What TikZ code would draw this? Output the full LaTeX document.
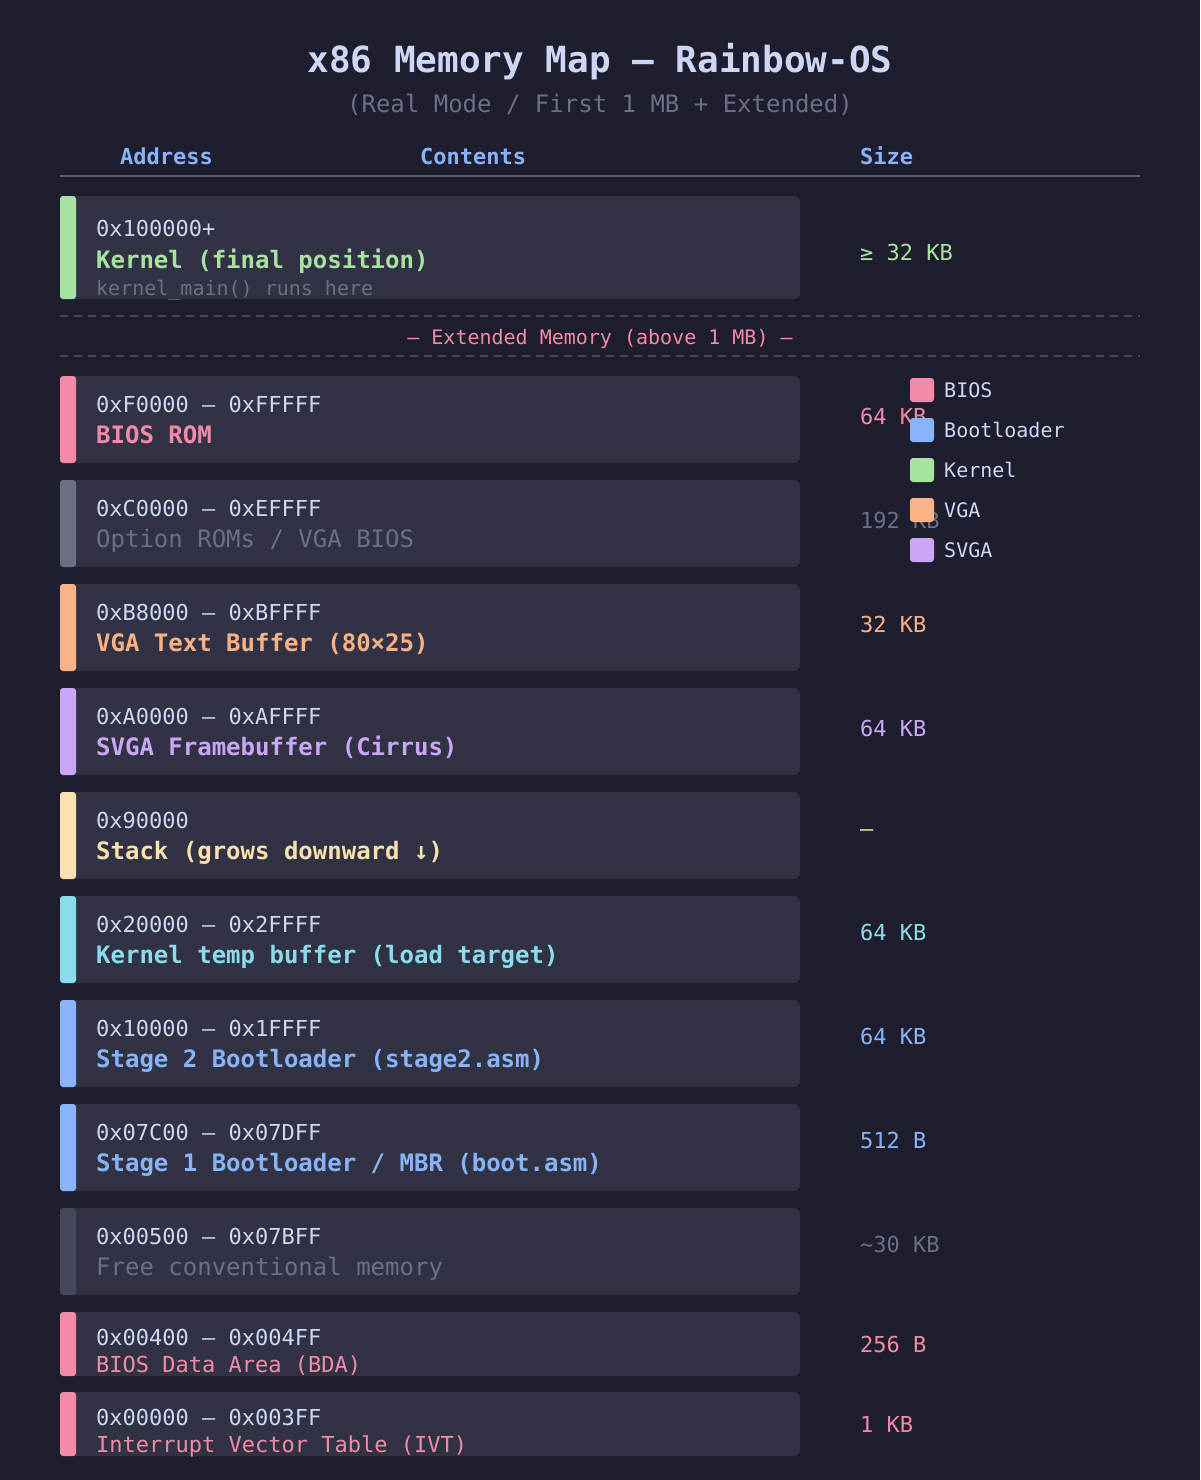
\documentclass[tikz,border=0pt]{standalone}
\usepackage{fontspec}
\setmainfont{DejaVu Sans Mono}
\setmonofont{DejaVu Sans Mono}
\definecolor{bg}{HTML}{1E1E2E}
\definecolor{surf}{HTML}{313244}
\definecolor{surfa}{HTML}{45475A}
\definecolor{surfb}{HTML}{585B70}
\definecolor{ovl}{HTML}{6C7086}
\definecolor{txt}{HTML}{CDD6F4}
\definecolor{cgreen}{HTML}{A6E3A1}
\definecolor{cred}{HTML}{F38BA8}
\definecolor{cblue}{HTML}{89B4FA}
\definecolor{cpeach}{HTML}{FAB387}
\definecolor{cmauve}{HTML}{CBA6F7}
\definecolor{cyellow}{HTML}{F9E2AF}
\definecolor{csky}{HTML}{89DCEB}
\tikzset{
  addr/.style={anchor=base west, inner sep=0pt, text=txt, font=\fontsize{22}{26}\selectfont},
  lbl/.style={anchor=base west, inner sep=0pt, font=\bfseries\fontsize{24}{28}\selectfont},
  lblthin/.style={anchor=base west, inner sep=0pt, font=\fontsize{24}{28}\selectfont},
  lblsmall/.style={anchor=base west, inner sep=0pt, font=\fontsize{22}{26}\selectfont},
  subnote/.style={anchor=base west, inner sep=0pt, text=ovl, font=\fontsize{20}{24}\selectfont},
  sz/.style={anchor=base west, inner sep=0pt, font=\fontsize{22}{26}\selectfont},
  hdr/.style={anchor=base west, inner sep=0pt, text=cblue, font=\bfseries\fontsize{22}{26}\selectfont},
  legtext/.style={anchor=base west, inner sep=0pt, text=txt, font=\fontsize{20}{24}\selectfont},
  dashline/.style={draw=surfa, line width=2pt, dash pattern=on 8pt off 6pt},
}
% #1 name, #2 top, #3 bar colour, #4 address, #5 label, #6 label style, #7 size text, #8 size colour, #9 size baseline offset
\newcommand{\stdrow}[9]{%
  \fill[surf, rounded corners=6pt] (60,#2) rectangle (800,{#2+87});
  \fill[#3, rounded corners=3pt] (60,#2) rectangle (76,{#2+87});
  \begin{scope}
    \clip (60,#2) rectangle (800,{#2+87});
    \node[addr] (#1a) at (96,{#2+36}) {#4};
    \node[#6] (#1l) at (96,{#2+67}) {#5};
  \end{scope}
  \node[sz, text=#8] (#1s) at (860,{#2+#9}) {#7};
}
\newcommand{\legitem}[4]{%
  \fill[#3, rounded corners=3pt] (910,#2) rectangle (934,{#2+24});
  \node[legtext] (#1) at (944,{#2+19}) {#4};
}
\begin{document}
\begin{tikzpicture}[x=1pt, y=-1pt]
\useasboundingbox (0,0) rectangle (1200,1480);
\fill[bg] (0,0) rectangle (1200,1480);

% title
\node[anchor=base, inner sep=0pt, text=txt, font=\bfseries\fontsize{36}{42}\selectfont] (title) at (600,72) {x86 Memory Map — Rainbow-OS};
\node[anchor=base, inner sep=0pt, text=ovl, font=\fontsize{24}{28}\selectfont] (subtitle) at (600,112) {(Real Mode / First 1 MB + Extended)};

% header
\node[hdr] (haddr) at (120,164) {Address};
\node[hdr] (hcont) at (420,164) {Contents};
\node[hdr] (hsize) at (860,164) {Size};
\draw[surfb, line width=2pt] (60,176) -- (1140,176);

% kernel final
\fill[surf, rounded corners=6pt] (60,196) rectangle (800,299);
\fill[cgreen, rounded corners=3pt] (60,196) rectangle (76,299);
\begin{scope}
  \clip (60,196) rectangle (800,299);
  \node[addr] (kfa) at (96,236) {0x100000+};
  \node[lbl, text=cgreen] (kfl) at (96,268) {Kernel (final position)};
  \node[subnote] (kfn) at (96,295) {kernel\_main() runs here};
\end{scope}
\node[sz, text=cgreen] (kfs) at (860,260) {≥ 32 KB};

% extended memory divider
\draw[dashline] (60,316) -- (1140,316);
\node[anchor=base, inner sep=0pt, text=cred, font=\fontsize{20}{24}\selectfont] (ext) at (600,344) {— Extended Memory (above 1 MB) —};
\draw[dashline] (60,356) -- (1140,356);

% standard rows
\stdrow{bios}{376}{cred}{0xF0000 — 0xFFFFF}{BIOS ROM}{lbl,text=cred}{64 KB}{cred}{48}
\stdrow{optrom}{480}{ovl}{0xC0000 — 0xEFFFF}{Option ROMs / VGA BIOS}{lblthin,text=ovl}{192 KB}{ovl}{48}
\stdrow{vga}{584}{cpeach}{0xB8000 — 0xBFFFF}{VGA Text Buffer (80×25)}{lbl,text=cpeach}{32 KB}{cpeach}{48}
\stdrow{svga}{688}{cmauve}{0xA0000 — 0xAFFFF}{SVGA Framebuffer (Cirrus)}{lbl,text=cmauve}{64 KB}{cmauve}{48}
\stdrow{stack}{792}{cyellow}{0x90000}{Stack (grows downward ↓)}{lbl,text=cyellow}{—}{cyellow}{44}
\stdrow{ktmp}{896}{csky}{0x20000 — 0x2FFFF}{Kernel temp buffer (load target)}{lbl,text=csky}{64 KB}{csky}{44}
\stdrow{stg2}{1000}{cblue}{0x10000 — 0x1FFFF}{Stage 2 Bootloader (stage2.asm)}{lbl,text=cblue}{64 KB}{cblue}{44}
\stdrow{stg1}{1104}{cblue}{0x07C00 — 0x07DFF}{Stage 1 Bootloader / MBR (boot.asm)}{lbl,text=cblue}{512 B}{cblue}{44}
\stdrow{free}{1208}{surfa}{0x00500 — 0x07BFF}{Free conventional memory}{lblthin,text=ovl}{\textasciitilde30 KB}{ovl}{44}

% BDA
\fill[surf, rounded corners=6pt] (60,1312) rectangle (800,1376);
\fill[cred, rounded corners=3pt] (60,1312) rectangle (76,1376);
\begin{scope}
  \clip (60,1312) rectangle (800,1376);
  \node[addr] (bdaa) at (96,1345) {0x00400 — 0x004FF};
  \node[lblsmall, text=cred] (bdal) at (96,1372) {BIOS Data Area (BDA)};
\end{scope}
\node[sz, text=cred] (bdas) at (860,1352) {256 B};

% IVT
\fill[surf, rounded corners=6pt] (60,1392) rectangle (800,1456);
\fill[cred, rounded corners=3pt] (60,1392) rectangle (76,1456);
\begin{scope}
  \clip (60,1392) rectangle (800,1456);
  \node[addr] (ivta) at (96,1425) {0x00000 — 0x003FF};
  \node[lblsmall, text=cred] (ivtl) at (96,1452) {Interrupt Vector Table (IVT)};
\end{scope}
\node[sz, text=cred] (ivts) at (860,1432) {1 KB};

% legend
\legitem{lgbios}{378}{cred}{BIOS}
\legitem{lgboot}{418}{cblue}{Bootloader}
\legitem{lgkern}{458}{cgreen}{Kernel}
\legitem{lgvga}{498}{cpeach}{VGA}
\legitem{lgsvga}{538}{cmauve}{SVGA}
\end{tikzpicture}
\end{document}
